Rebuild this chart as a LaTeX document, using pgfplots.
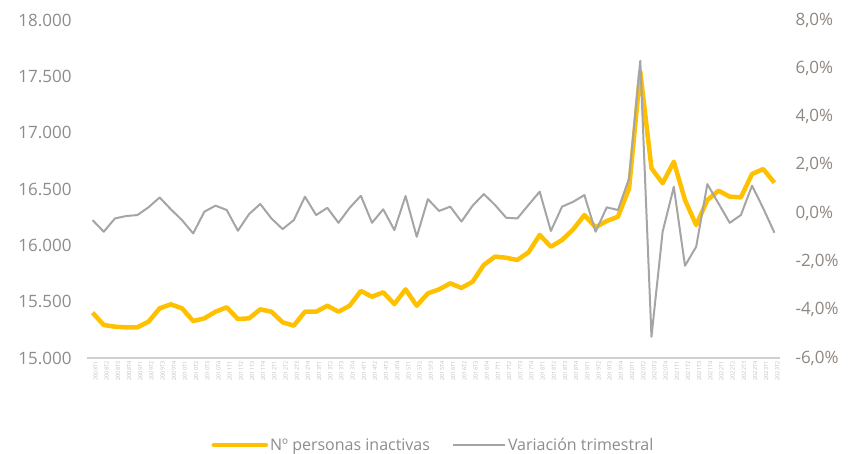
\documentclass[border=0pt]{standalone}
\usepackage{fontspec}
\setmainfont{Open Sans}
\usepackage{pgfplots}
\pgfplotsset{compat=1.18}
\definecolor{gold}{HTML}{FFC000}
\definecolor{lgrey}{HTML}{A5A5A5}
\definecolor{txt}{HTML}{8C8C8C}
\definecolor{rtxt}{HTML}{8F8780}
\definecolor{axl}{HTML}{D0D0D0}
\definecolor{xt}{HTML}{BFBFBF}
\begin{document}
\begin{tikzpicture}
\path[use as bounding box] (-87pt,-96pt) rectangle (761pt,358pt);
\pgfplotsset{
  base/.style={
    scale only axis, width=693pt, height=338pt,
    at={(0pt,0pt)}, anchor=south west,
    xmin=0.5, xmax=62.5,
    major tick length=0pt,
    clip=false,
    scaled y ticks=false,
    axis line style={draw=none},
  }
}
\begin{axis}[base,
  ymin=15000, ymax=18000,
  axis x line*=bottom, axis y line*=left,
  ytick={15000,15500,16000,16500,17000,17500,18000},
  yticklabels={15.000,15.500,16.000,16.500,17.000,17.500,18.000},
  yticklabel style={font=\fontsize{17}{20}\selectfont, text=txt, xshift=-12pt},
  xtick={1,...,62},
  xticklabels={2008T1,2008T2,2008T3,2008T4,2009T1,2009T2,2009T3,2009T4,2010T1,2010T2,2010T3,2010T4,2011T1,2011T2,2011T3,2011T4,2012T1,2012T2,2012T3,2012T4,2013T1,2013T2,2013T3,2013T4,2014T1,2014T2,2014T3,2014T4,2015T1,2015T2,2015T3,2015T4,2016T1,2016T2,2016T3,2016T4,2017T1,2017T2,2017T3,2017T4,2018T1,2018T2,2018T3,2018T4,2019T1,2019T2,2019T3,2019T4,2020T1,2020T2,2020T3,2020T4,2021T1,2021T2,2021T3,2021T4,2022T1,2022T2,2022T3,2022T4,2023T1,2023T2},
  xticklabel style={font=\fontsize{5.5}{6}\selectfont, text=xt, rotate=90, anchor=east, yshift=-3pt},
]
\addplot[gold, line width=4.5pt, line join=round] coordinates {
(1,15402)(2,15293)(3,15278)(4,15272)(5,15272)(6,15322)(7,15441)(8,15476)
(9,15441)(10,15328)(11,15352)(12,15411)(13,15450)(14,15346)(15,15352)(16,15432)
(17,15411)(18,15317)(19,15287)(20,15411)(21,15411)(22,15464)(23,15411)(24,15464)
(25,15595)(26,15544)(27,15583)(28,15479)(29,15609)(30,15464)(31,15574)(32,15609)
(33,15663)(34,15622)(35,15677)(36,15826)(37,15900)(38,15890)(39,15870)(40,15938)
(41,16092)(42,15988)(43,16047)(44,16142)(45,16269)(46,16160)(47,16216)(48,16254)
(49,16506)(50,17540)(51,16684)(52,16551)(53,16742)(54,16402)(55,16180)(56,16402)
(57,16485)(58,16432)(59,16426)(60,16633)(61,16677)(62,16556)
};
\end{axis}
\begin{axis}[base,
  ymin=-6, ymax=8,
  axis y line*=right, axis x line=none,
  ytick={-6,-4,...,8},
  yticklabels={{-6,0\%},{-4,0\%},{-2,0\%},{0,0\%},{2,0\%},{4,0\%},{6,0\%},{8,0\%}},
  yticklabel style={font=\fontsize{17}{20}\selectfont, text=rtxt, xshift=12pt},
  legend columns=2,
  legend style={draw=none, fill=none, at={(0.5,-0.2574)}, anchor=center,
    font=\fontsize{16}{19}\selectfont, text=txt,
    /tikz/every even column/.append style={column sep=20pt}},
  legend image code/.code={\draw[#1] (0pt,0pt) -- (52pt,0pt);},
]
\addlegendimage{gold, line width=4.5pt, line cap=round}
\addlegendentry{Nº personas inactivas}
\addplot[axl, line width=2pt, forget plot] coordinates {(0.5,-6)(62.5,-6)};
\addplot[lgrey, line width=2pt, line join=round] coordinates {
(1,-0.29)(2,-0.77)(3,-0.22)(4,-0.12)(5,-0.08)(6,0.24)(7,0.65)(8,0.16)
(9,-0.29)(10,-0.84)(11,0.06)(12,0.31)(13,0.13)(14,-0.73)(15,-0.04)(16,0.38)
(17,-0.22)(18,-0.66)(19,-0.29)(20,0.68)(21,-0.08)(22,0.22)(23,-0.40)(24,0.22)
(25,0.72)(26,-0.40)(27,0.16)(28,-0.70)(29,0.71)(30,-0.98)(31,0.58)(32,0.09)
(33,0.27)(34,-0.35)(35,0.31)(36,0.79)(37,0.34)(38,-0.19)(39,-0.22)(40,0.34)
(41,0.89)(42,-0.74)(43,0.27)(44,0.47)(45,0.75)(46,-0.77)(47,0.24)(48,0.13)
(49,1.44)(50,6.31)(51,-5.12)(52,-0.77)(53,1.09)(54,-2.18)(55,-1.39)(56,1.20)
(57,0.40)(58,-0.40)(59,-0.08)(60,1.14)(61,0.20)(62,-0.81)
};
\addlegendentry{Variación trimestral}
\end{axis}
\end{tikzpicture}
\end{document}
